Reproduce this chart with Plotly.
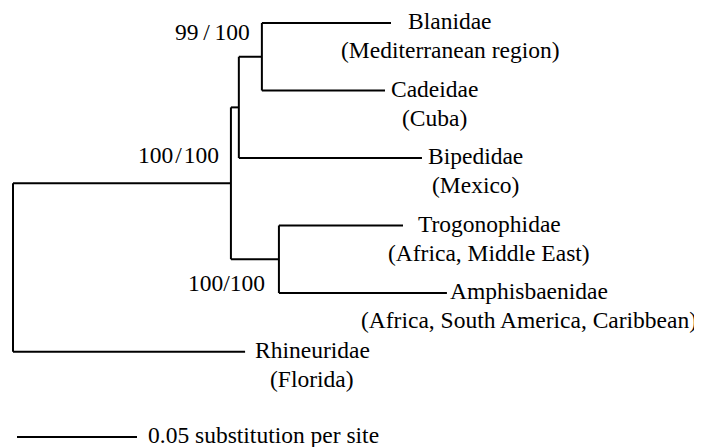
import plotly.graph_objects as go

# ---------------- data ----------------
# tree topology (child -> parent) and branch lengths (substitutions per site)
node_names = ["ingroup", "A", "B", "C",
              "Blanidae", "Cadeidae", "Bipedidae",
              "Trogonophidae", "Amphisbaenidae", "Rhineuridae"]
node_parents = ["root", "ingroup", "A", "ingroup",
                "B", "B", "A",
                "C", "C", "root"]
branch_lengths = [0.0908, 0.0033, 0.0096, 0.0200,
                  0.0538, 0.0513, 0.0763,
                  0.0517, 0.0700, 0.0967]

# leaves in drawing order and their row positions
leaf_names = ["Blanidae", "Cadeidae", "Bipedidae",
              "Trogonophidae", "Amphisbaenidae", "Rhineuridae"]
leaf_rows = [0, 1, 2, 3, 4, 4.87]
leaf_regions = ["(Mediterranean region)", "(Cuba)", "(Mexico)",
                "(Africa, Middle East)", "(Africa, South America, Caribbean)",
                "(Florida)"]

# bootstrap / posterior support
support_nodes = ["B", "ingroup", "C"]
support_labels = ["99\u2009/\u2009100", "100\u200a/\u200a100", "100/100"]

scale_length = 0.05
scale_label = "0.05 substitution per site"

# ---------------- layout helpers (styles) ----------------
W, H = 702, 447
PAGE_OFFSET = 8  # body margin of the page
PX_PER_UNIT = 2400.0
PX_PER_ROW = 67.5
X0_PX, Y0_PX = 13 - PAGE_OFFSET, 23 - PAGE_OFFSET
FONT = dict(family="Liberation Serif, Times New Roman, serif", size=23.5, color="black")

label_xshift = {"Blanidae": 59, "Cadeidae": 49, "Bipedidae": 54,
                "Trogonophidae": 86, "Amphisbaenidae": 82, "Rhineuridae": 67}
support_offsets = {"B": (-10, 25), "ingroup": (-10, 28), "C": (-12, -24)}

# ---------------- compute tree coordinates ----------------
blen = dict(zip(node_names, branch_lengths))
children = {}
for n, p in zip(node_names, node_parents):
    children.setdefault(p, []).append(n)

xpos = {"root": 0.0}
def set_x(n):
    for c in children.get(n, []):
        xpos[c] = xpos[n] + blen[c]
        set_x(c)
set_x("root")

ypos = dict(zip(leaf_names, leaf_rows))
def set_y(n):
    if n in ypos:
        return ypos[n]
    ys_ = [set_y(c) for c in children[n]]
    ypos[n] = sum(ys_) / len(ys_)
    return ypos[n]
set_y("root")

xs, ys = [], []
for n in ["root"] + node_names:
    ch = children.get(n, [])
    if ch:
        cy = [ypos[c] for c in ch]
        xs += [xpos[n], xpos[n], None]
        ys += [min(cy), max(cy), None]
        for c in ch:
            xs += [xpos[n], xpos[c], None]
            ys += [ypos[c], ypos[c], None]

fig = go.Figure()
fig.add_trace(go.Scatter(x=xs, y=ys, mode="lines",
                         line=dict(color="black", width=2),
                         hoverinfo="skip", showlegend=False))

# scale bar
sb_x0 = 4 / PX_PER_UNIT
sb_y = (437 - 23) / PX_PER_ROW
fig.add_trace(go.Scatter(x=[sb_x0, sb_x0 + scale_length], y=[sb_y, sb_y], mode="lines",
                         line=dict(color="black", width=2),
                         hoverinfo="skip", showlegend=False))

ann = []
for name, region in zip(leaf_names, leaf_regions):
    ann.append(dict(x=xpos[name], y=ypos[name], xref="x", yref="y", text=name,
                    showarrow=False, xanchor="center", yanchor="middle",
                    xshift=label_xshift[name], yshift=2, font=FONT))
    ann.append(dict(x=xpos[name], y=ypos[name], xref="x", yref="y", text=region,
                    showarrow=False, xanchor="center", yanchor="middle",
                    xshift=label_xshift[name], yshift=-27, font=FONT))

for node, lab in zip(support_nodes, support_labels):
    dx, dy = support_offsets[node]
    ann.append(dict(x=xpos[node], y=ypos[node], xref="x", yref="y", text=lab,
                    showarrow=False, xanchor="right", yanchor="middle",
                    xshift=dx, yshift=dy, font=FONT))

ann.append(dict(x=sb_x0 + scale_length, y=sb_y, xref="x", yref="y", text=scale_label,
                showarrow=False, xanchor="left", yanchor="middle",
                xshift=9, yshift=2, font=FONT))

fig.update_layout(
    width=W, height=H,
    margin=dict(l=0, r=0, t=0, b=0),
    paper_bgcolor="white", plot_bgcolor="white",
    annotations=ann,
    xaxis=dict(range=[-X0_PX / PX_PER_UNIT, (W - X0_PX) / PX_PER_UNIT],
               visible=False, fixedrange=True),
    yaxis=dict(range=[(H - Y0_PX) / PX_PER_ROW, -Y0_PX / PX_PER_ROW],
               visible=False, fixedrange=True),
)

fig.write_html("out.html")
